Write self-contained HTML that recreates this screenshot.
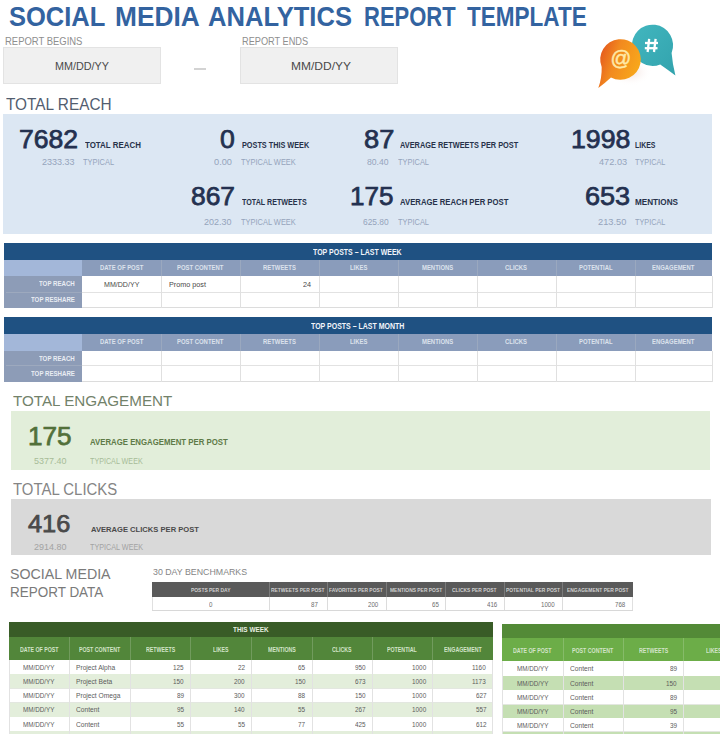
<!DOCTYPE html>
<html><head><meta charset="utf-8"><style>
html,body{margin:0;padding:0;background:#fff;width:720px;height:734px;overflow:hidden;position:relative}
body>div{position:absolute}
.t{white-space:nowrap;transform-origin:0 0;font-family:"Liberation Sans",sans-serif}
</style></head><body>
<div class="t" style="left:8.63px;top:3px;font-size:27.43px;line-height:27.43px;font-weight:700;color:#3363A0;transform:scaleX(0.9303);">SOCIAL</div>
<div class="t" style="left:114.54px;top:3px;font-size:27.43px;line-height:27.43px;font-weight:700;color:#3363A0;transform:scaleX(0.9580);">MEDIA</div>
<div class="t" style="left:208.11px;top:3px;font-size:27.43px;line-height:27.43px;font-weight:700;color:#3363A0;transform:scaleX(0.9327);">ANALYTICS</div>
<div class="t" style="left:363.57px;top:3px;font-size:27.43px;line-height:27.43px;font-weight:700;color:#3363A0;transform:scaleX(0.8022);">REPORT</div>
<div class="t" style="left:467.07px;top:3px;font-size:27.43px;line-height:27.43px;font-weight:700;color:#3363A0;transform:scaleX(0.8211);">TEMPLATE</div>
<div class="t" style="left:5.49px;top:37px;font-size:10.43px;line-height:10.43px;font-weight:400;color:#8E8E8E;transform:scaleX(0.9070);">REPORT BEGINS</div>
<div style="left:3.00px;top:47.00px;width:158.00px;height:37.00px;background:#F0F0F0;box-shadow:inset 0 0 0 1px #E3E3E3"></div>
<div class="t" style="left:55.13px;top:61px;font-size:11.43px;line-height:11.43px;font-weight:400;color:#4A4A4A;transform:scaleX(0.9463);">MM/DD/YY</div>
<div style="left:194.00px;top:68.00px;width:12.00px;height:2.00px;background:#D3D3D3;"></div>
<div class="t" style="left:242.26px;top:37px;font-size:10.43px;line-height:10.43px;font-weight:400;color:#8E8E8E;transform:scaleX(0.8827);">REPORT ENDS</div>
<div style="left:240.00px;top:47.00px;width:158.00px;height:37.00px;background:#F0F0F0;box-shadow:inset 0 0 0 1px #E3E3E3"></div>
<div class="t" style="left:290.54px;top:61px;font-size:11.43px;line-height:11.43px;font-weight:400;color:#4A4A4A;transform:scaleX(1.0517);">MM/DD/YY</div>
<svg style="position:absolute;left:580px;top:15px" width="110" height="85" viewBox="580 15 110 85">
<defs>
<linearGradient id="og" x1="0" y1="0.1" x2="1" y2="0.5"><stop offset="0" stop-color="#E14E1E"/><stop offset="0.45" stop-color="#F28A1F"/><stop offset="1" stop-color="#F8A81B"/></linearGradient>
<linearGradient id="tg" x1="0" y1="0" x2="1" y2="1"><stop offset="0" stop-color="#42B6BF"/><stop offset="1" stop-color="#32A3AD"/></linearGradient>
<radialGradient id="sh" cx="0.5" cy="0.5" r="0.5"><stop offset="0" stop-color="#E8C8C0" stop-opacity="0.6"/><stop offset="1" stop-color="#fff" stop-opacity="0"/></radialGradient>
</defs>
<ellipse cx="630" cy="72" rx="22" ry="14" fill="url(#sh)"/>
<path d="M671.60,53.02 Q672.5,64 675.4,75.6 Q667,69 660.22,64.40 A20.6,20.6 0 1,1 671.60,53.02 z" fill="url(#tg)"/>
<path d="M610.97,77.42 Q605,83 598.3,88 Q602,78 601.68,67.10 A20.3,20.3 0 1,1 610.97,77.42 z" fill="url(#og)"/>
<g stroke="#FFFFFF" stroke-width="2.3" fill="none">
<path d="M649.2,38.8 L647.6,52"/><path d="M655.6,38.8 L654,52"/>
<path d="M645,43 L658,43"/><path d="M644.8,48.2 L657.5,48.2"/>
</g>
<text x="621" y="65.4" font-family="Liberation Sans" font-size="20.5" fill="#FFE9A6" text-anchor="middle" stroke="#FFE9A6" stroke-width="0.5">@</text>
</svg>
<div class="t" style="left:6.39px;top:96px;font-size:16.43px;line-height:16.43px;font-weight:400;color:#525D6F;transform:scaleX(0.9359);">TOTAL REACH</div>
<div style="left:3.00px;top:114.00px;width:709.00px;height:120.00px;background:#DCE7F3;"></div>
<div class="t" style="left:19.35px;top:127px;font-size:25.21px;line-height:25.21px;font-weight:400;color:#243150;transform:scaleX(1.0537);-webkit-text-stroke:0.75px #243150">7682</div>
<div class="t" style="left:84.62px;top:141px;font-size:9.29px;line-height:9.29px;font-weight:700;color:#27324A;transform:scaleX(0.8528);">TOTAL REACH</div>
<div class="t" style="left:42.05px;top:157px;font-size:9.57px;line-height:9.57px;font-weight:400;color:#95A4BC;transform:scaleX(0.9410);">2333.33</div>
<div class="t" style="left:83.15px;top:157px;font-size:9.57px;line-height:9.57px;font-weight:400;color:#95A4BC;transform:scaleX(0.7796);">TYPICAL</div>
<div class="t" style="left:220.31px;top:127px;font-size:25.21px;line-height:25.21px;font-weight:400;color:#243150;transform:scaleX(1.0564);-webkit-text-stroke:0.75px #243150">0</div>
<div class="t" style="left:241.73px;top:141px;font-size:9.29px;line-height:9.29px;font-weight:700;color:#27324A;transform:scaleX(0.7851);">POSTS THIS WEEK</div>
<div class="t" style="left:214.03px;top:157px;font-size:9.57px;line-height:9.57px;font-weight:400;color:#95A4BC;transform:scaleX(0.9637);">0.00</div>
<div class="t" style="left:240.85px;top:157px;font-size:9.57px;line-height:9.57px;font-weight:400;color:#95A4BC;transform:scaleX(0.7794);">TYPICAL WEEK</div>
<div class="t" style="left:363.55px;top:127px;font-size:25.21px;line-height:25.21px;font-weight:400;color:#243150;transform:scaleX(1.0806);-webkit-text-stroke:0.75px #243150">87</div>
<div class="t" style="left:399.52px;top:141px;font-size:9.29px;line-height:9.29px;font-weight:700;color:#27324A;transform:scaleX(0.7943);">AVERAGE RETWEETS PER POST</div>
<div class="t" style="left:367.41px;top:157px;font-size:9.57px;line-height:9.57px;font-weight:400;color:#95A4BC;transform:scaleX(0.9000);">80.40</div>
<div class="t" style="left:398.15px;top:157px;font-size:9.57px;line-height:9.57px;font-weight:400;color:#95A4BC;transform:scaleX(0.7770);">TYPICAL</div>
<div class="t" style="left:570.88px;top:127px;font-size:25.21px;line-height:25.21px;font-weight:400;color:#243150;transform:scaleX(1.0575);-webkit-text-stroke:0.75px #243150">1998</div>
<div class="t" style="left:635.30px;top:141px;font-size:9.29px;line-height:9.29px;font-weight:700;color:#27324A;transform:scaleX(0.7473);">LIKES</div>
<div class="t" style="left:598.52px;top:157px;font-size:9.57px;line-height:9.57px;font-weight:400;color:#95A4BC;transform:scaleX(0.9611);">472.03</div>
<div class="t" style="left:634.85px;top:157px;font-size:9.57px;line-height:9.57px;font-weight:400;color:#95A4BC;transform:scaleX(0.7618);">TYPICAL</div>
<div class="t" style="left:191.39px;top:184px;font-size:25.79px;line-height:25.79px;font-weight:400;color:#243150;transform:scaleX(1.0237);-webkit-text-stroke:0.75px #243150">867</div>
<div class="t" style="left:242.13px;top:197px;font-size:9.86px;line-height:9.86px;font-weight:700;color:#27324A;transform:scaleX(0.7260);">TOTAL RETWEETS</div>
<div class="t" style="left:204.45px;top:217px;font-size:9.57px;line-height:9.57px;font-weight:400;color:#95A4BC;transform:scaleX(0.9394);">202.30</div>
<div class="t" style="left:240.85px;top:217px;font-size:9.57px;line-height:9.57px;font-weight:400;color:#95A4BC;transform:scaleX(0.7794);">TYPICAL WEEK</div>
<div class="t" style="left:350.12px;top:184px;font-size:25.79px;line-height:25.79px;font-weight:400;color:#243150;transform:scaleX(1.0094);-webkit-text-stroke:0.75px #243150">175</div>
<div class="t" style="left:399.51px;top:197px;font-size:9.86px;line-height:9.86px;font-weight:700;color:#27324A;transform:scaleX(0.7843);">AVERAGE REACH PER POST</div>
<div class="t" style="left:363.18px;top:217px;font-size:9.57px;line-height:9.57px;font-weight:400;color:#95A4BC;transform:scaleX(0.8796);">625.80</div>
<div class="t" style="left:398.15px;top:217px;font-size:9.57px;line-height:9.57px;font-weight:400;color:#95A4BC;transform:scaleX(0.7770);">TYPICAL</div>
<div class="t" style="left:585.27px;top:184px;font-size:25.79px;line-height:25.79px;font-weight:400;color:#243150;transform:scaleX(1.0496);-webkit-text-stroke:0.75px #243150">653</div>
<div class="t" style="left:635.22px;top:197px;font-size:9.86px;line-height:9.86px;font-weight:700;color:#27324A;transform:scaleX(0.8280);">MENTIONS</div>
<div class="t" style="left:598.29px;top:217px;font-size:9.57px;line-height:9.57px;font-weight:400;color:#95A4BC;transform:scaleX(0.9675);">213.50</div>
<div class="t" style="left:634.85px;top:217px;font-size:9.57px;line-height:9.57px;font-weight:400;color:#95A4BC;transform:scaleX(0.7618);">TYPICAL</div>
<div style="left:4.00px;top:243.00px;width:708.00px;height:17.00px;background:#1F5182;"></div>
<div class="t" style="left:313.41px;top:247px;font-size:9.86px;line-height:9.86px;font-weight:700;color:#F2F5FA;transform:scaleX(0.7098);">TOP POSTS – LAST WEEK</div>
<div style="left:4.00px;top:260.00px;width:78.00px;height:16.00px;background:#A3B7D9;"></div>
<div style="left:82.00px;top:260.00px;width:630.00px;height:16.00px;background:#8A9CBB;"></div>
<div style="left:161.00px;top:260.00px;width:1.00px;height:16.00px;background:#9AA8BF;"></div>
<div style="left:240.00px;top:260.00px;width:1.00px;height:16.00px;background:#9AA8BF;"></div>
<div style="left:319.00px;top:260.00px;width:1.00px;height:16.00px;background:#9AA8BF;"></div>
<div style="left:398.00px;top:260.00px;width:1.00px;height:16.00px;background:#9AA8BF;"></div>
<div style="left:477.00px;top:260.00px;width:1.00px;height:16.00px;background:#9AA8BF;"></div>
<div style="left:556.00px;top:260.00px;width:1.00px;height:16.00px;background:#9AA8BF;"></div>
<div style="left:635.00px;top:260.00px;width:1.00px;height:16.00px;background:#9AA8BF;"></div>
<div class="t" style="left:99.65px;top:265px;font-size:7.14px;line-height:7.14px;font-weight:700;color:#DCE2EC;transform:scaleX(0.8303);">DATE OF POST</div>
<div class="t" style="left:177.11px;top:265px;font-size:7.14px;line-height:7.14px;font-weight:700;color:#DCE2EC;transform:scaleX(0.8303);">POST CONTENT</div>
<div class="t" style="left:262.94px;top:265px;font-size:7.14px;line-height:7.14px;font-weight:700;color:#DCE2EC;transform:scaleX(0.8303);">RETWEETS</div>
<div class="t" style="left:349.68px;top:265px;font-size:7.14px;line-height:7.14px;font-weight:700;color:#DCE2EC;transform:scaleX(0.8303);">LIKES</div>
<div class="t" style="left:421.77px;top:265px;font-size:7.14px;line-height:7.14px;font-weight:700;color:#DCE2EC;transform:scaleX(0.8303);">MENTIONS</div>
<div class="t" style="left:505.46px;top:265px;font-size:7.14px;line-height:7.14px;font-weight:700;color:#DCE2EC;transform:scaleX(0.8303);">CLICKS</div>
<div class="t" style="left:578.60px;top:265px;font-size:7.14px;line-height:7.14px;font-weight:700;color:#DCE2EC;transform:scaleX(0.8303);">POTENTIAL</div>
<div class="t" style="left:652.25px;top:265px;font-size:7.14px;line-height:7.14px;font-weight:700;color:#DCE2EC;transform:scaleX(0.8303);">ENGAGEMENT</div>
<div style="left:4.00px;top:276.00px;width:78.00px;height:32.00px;background:#8D9CB7;"></div>
<div style="left:6.00px;top:292.00px;width:76.00px;height:1.00px;background:#9DA9BE;"></div>
<div class="t" style="left:39.00px;top:280px;font-size:7.29px;line-height:7.29px;font-weight:700;color:#E9EDF3;transform:scaleX(0.8395);">TOP REACH</div>
<div class="t" style="left:30.64px;top:296px;font-size:7.29px;line-height:7.29px;font-weight:700;color:#E9EDF3;transform:scaleX(0.8395);">TOP RESHARE</div>
<div style="left:82.00px;top:292.00px;width:630.00px;height:1.00px;background:#E2E2E2;"></div>
<div style="left:82.00px;top:307.00px;width:630.00px;height:1.00px;background:#DCDCDC;"></div>
<div style="left:161.00px;top:276.00px;width:1.00px;height:32.00px;background:#E0E0E0;"></div>
<div style="left:240.00px;top:276.00px;width:1.00px;height:32.00px;background:#E0E0E0;"></div>
<div style="left:319.00px;top:276.00px;width:1.00px;height:32.00px;background:#E0E0E0;"></div>
<div style="left:398.00px;top:276.00px;width:1.00px;height:32.00px;background:#E0E0E0;"></div>
<div style="left:477.00px;top:276.00px;width:1.00px;height:32.00px;background:#E0E0E0;"></div>
<div style="left:556.00px;top:276.00px;width:1.00px;height:32.00px;background:#E0E0E0;"></div>
<div style="left:635.00px;top:276.00px;width:1.00px;height:32.00px;background:#E0E0E0;"></div>
<div style="left:712.00px;top:276.00px;width:1.00px;height:32.00px;background:#E0E0E0;"></div>
<div class="t" style="left:103.61px;top:281px;font-size:7.86px;line-height:7.86px;font-weight:400;color:#4A4A4A;transform:scaleX(0.8997);">MM/DD/YY</div>
<div class="t" style="left:169.02px;top:281px;font-size:7.86px;line-height:7.86px;font-weight:400;color:#4A4A4A;transform:scaleX(0.9197);">Promo post</div>
<div class="t" style="left:303.19px;top:281px;font-size:7.86px;line-height:7.86px;font-weight:400;color:#4A4A4A;transform:scaleX(0.9197);">24</div>
<div style="left:4.00px;top:317.00px;width:708.00px;height:17.00px;background:#1F5182;"></div>
<div class="t" style="left:311.28px;top:321px;font-size:9.86px;line-height:9.86px;font-weight:700;color:#F2F5FA;transform:scaleX(0.7098);">TOP POSTS – LAST MONTH</div>
<div style="left:4.00px;top:334.00px;width:78.00px;height:17.00px;background:#A3B7D9;"></div>
<div style="left:82.00px;top:334.00px;width:630.00px;height:17.00px;background:#8A9CBB;"></div>
<div style="left:161.00px;top:334.00px;width:1.00px;height:17.00px;background:#9AA8BF;"></div>
<div style="left:240.00px;top:334.00px;width:1.00px;height:17.00px;background:#9AA8BF;"></div>
<div style="left:319.00px;top:334.00px;width:1.00px;height:17.00px;background:#9AA8BF;"></div>
<div style="left:398.00px;top:334.00px;width:1.00px;height:17.00px;background:#9AA8BF;"></div>
<div style="left:477.00px;top:334.00px;width:1.00px;height:17.00px;background:#9AA8BF;"></div>
<div style="left:556.00px;top:334.00px;width:1.00px;height:17.00px;background:#9AA8BF;"></div>
<div style="left:635.00px;top:334.00px;width:1.00px;height:17.00px;background:#9AA8BF;"></div>
<div class="t" style="left:99.65px;top:339px;font-size:7.14px;line-height:7.14px;font-weight:700;color:#DCE2EC;transform:scaleX(0.8303);">DATE OF POST</div>
<div class="t" style="left:177.11px;top:339px;font-size:7.14px;line-height:7.14px;font-weight:700;color:#DCE2EC;transform:scaleX(0.8303);">POST CONTENT</div>
<div class="t" style="left:262.94px;top:339px;font-size:7.14px;line-height:7.14px;font-weight:700;color:#DCE2EC;transform:scaleX(0.8303);">RETWEETS</div>
<div class="t" style="left:349.68px;top:339px;font-size:7.14px;line-height:7.14px;font-weight:700;color:#DCE2EC;transform:scaleX(0.8303);">LIKES</div>
<div class="t" style="left:421.77px;top:339px;font-size:7.14px;line-height:7.14px;font-weight:700;color:#DCE2EC;transform:scaleX(0.8303);">MENTIONS</div>
<div class="t" style="left:505.46px;top:339px;font-size:7.14px;line-height:7.14px;font-weight:700;color:#DCE2EC;transform:scaleX(0.8303);">CLICKS</div>
<div class="t" style="left:578.60px;top:339px;font-size:7.14px;line-height:7.14px;font-weight:700;color:#DCE2EC;transform:scaleX(0.8303);">POTENTIAL</div>
<div class="t" style="left:652.25px;top:339px;font-size:7.14px;line-height:7.14px;font-weight:700;color:#DCE2EC;transform:scaleX(0.8303);">ENGAGEMENT</div>
<div style="left:4.00px;top:351.00px;width:78.00px;height:31.00px;background:#8D9CB7;"></div>
<div style="left:6.00px;top:365.00px;width:76.00px;height:1.00px;background:#9DA9BE;"></div>
<div class="t" style="left:39.00px;top:355px;font-size:7.29px;line-height:7.29px;font-weight:700;color:#E9EDF3;transform:scaleX(0.8395);">TOP REACH</div>
<div class="t" style="left:30.64px;top:370px;font-size:7.29px;line-height:7.29px;font-weight:700;color:#E9EDF3;transform:scaleX(0.8395);">TOP RESHARE</div>
<div style="left:82.00px;top:365.00px;width:630.00px;height:1.00px;background:#E2E2E2;"></div>
<div style="left:82.00px;top:381.00px;width:630.00px;height:1.00px;background:#DCDCDC;"></div>
<div style="left:161.00px;top:351.00px;width:1.00px;height:31.00px;background:#E0E0E0;"></div>
<div style="left:240.00px;top:351.00px;width:1.00px;height:31.00px;background:#E0E0E0;"></div>
<div style="left:319.00px;top:351.00px;width:1.00px;height:31.00px;background:#E0E0E0;"></div>
<div style="left:398.00px;top:351.00px;width:1.00px;height:31.00px;background:#E0E0E0;"></div>
<div style="left:477.00px;top:351.00px;width:1.00px;height:31.00px;background:#E0E0E0;"></div>
<div style="left:556.00px;top:351.00px;width:1.00px;height:31.00px;background:#E0E0E0;"></div>
<div style="left:635.00px;top:351.00px;width:1.00px;height:31.00px;background:#E0E0E0;"></div>
<div style="left:712.00px;top:351.00px;width:1.00px;height:31.00px;background:#E0E0E0;"></div>
<div class="t" style="left:13.45px;top:394px;font-size:14.79px;line-height:14.79px;font-weight:400;color:#72826A;transform:scaleX(1.0281);">TOTAL ENGAGEMENT</div>
<div style="left:11.00px;top:411.00px;width:699.00px;height:59.00px;background:#E2EEDA;"></div>
<div class="t" style="left:28.42px;top:424px;font-size:25.5px;line-height:25.5px;font-weight:400;color:#52703A;transform:scaleX(1.0247);-webkit-text-stroke:0.75px #52703A">175</div>
<div class="t" style="left:90.30px;top:437px;font-size:9.43px;line-height:9.43px;font-weight:700;color:#5E7A47;transform:scaleX(0.8278);">AVERAGE ENGAGEMENT PER POST</div>
<div class="t" style="left:34.14px;top:457px;font-size:8.79px;line-height:8.79px;font-weight:400;color:#A7BC98;transform:scaleX(1.0218);">5377.40</div>
<div class="t" style="left:90.36px;top:457px;font-size:8.79px;line-height:8.79px;font-weight:400;color:#A7BC98;transform:scaleX(0.8159);">TYPICAL WEEK</div>
<div class="t" style="left:13.45px;top:482px;font-size:15.71px;line-height:15.71px;font-weight:400;color:#858585;transform:scaleX(0.9504);">TOTAL CLICKS</div>
<div style="left:11.00px;top:499.00px;width:700.00px;height:56.00px;background:#D9D9D9;"></div>
<div class="t" style="left:28.49px;top:513px;font-size:23.64px;line-height:23.64px;font-weight:400;color:#4A4A4A;transform:scaleX(1.0741);-webkit-text-stroke:0.75px #4A4A4A">416</div>
<div class="t" style="left:91.06px;top:526px;font-size:7.57px;line-height:7.57px;font-weight:700;color:#4A4A4A;transform:scaleX(1.0045);">AVERAGE CLICKS PER POST</div>
<div class="t" style="left:34.05px;top:543px;font-size:8.86px;line-height:8.86px;font-weight:400;color:#A3A3A3;transform:scaleX(1.0166);">2914.80</div>
<div class="t" style="left:89.86px;top:543px;font-size:8.86px;line-height:8.86px;font-weight:400;color:#A3A3A3;transform:scaleX(0.8172);">TYPICAL WEEK</div>
<div class="t" style="left:10.36px;top:567px;font-size:14.29px;line-height:14.29px;font-weight:400;color:#7A7A7A;transform:scaleX(0.9954);">SOCIAL MEDIA</div>
<div class="t" style="left:9.92px;top:584px;font-size:15.14px;line-height:15.14px;font-weight:400;color:#7A7A7A;transform:scaleX(0.8906);">REPORT DATA</div>
<div class="t" style="left:152.85px;top:567px;font-size:9.57px;line-height:9.57px;font-weight:400;color:#858585;transform:scaleX(0.9207);">30 DAY BENCHMARKS</div>
<div style="left:152.00px;top:582.00px;width:481.00px;height:15.00px;background:#5A5A5A;"></div>
<div style="left:269.00px;top:582.00px;width:1.00px;height:15.00px;background:#7A7A7A;"></div>
<div style="left:269.00px;top:597.00px;width:1.00px;height:14.00px;background:#DCDCDC;"></div>
<div style="left:327.00px;top:582.00px;width:1.00px;height:15.00px;background:#7A7A7A;"></div>
<div style="left:327.00px;top:597.00px;width:1.00px;height:14.00px;background:#DCDCDC;"></div>
<div style="left:386.00px;top:582.00px;width:1.00px;height:15.00px;background:#7A7A7A;"></div>
<div style="left:386.00px;top:597.00px;width:1.00px;height:14.00px;background:#DCDCDC;"></div>
<div style="left:445.00px;top:582.00px;width:1.00px;height:15.00px;background:#7A7A7A;"></div>
<div style="left:445.00px;top:597.00px;width:1.00px;height:14.00px;background:#DCDCDC;"></div>
<div style="left:504.00px;top:582.00px;width:1.00px;height:15.00px;background:#7A7A7A;"></div>
<div style="left:504.00px;top:597.00px;width:1.00px;height:14.00px;background:#DCDCDC;"></div>
<div style="left:562.00px;top:582.00px;width:1.00px;height:15.00px;background:#7A7A7A;"></div>
<div style="left:562.00px;top:597.00px;width:1.00px;height:14.00px;background:#DCDCDC;"></div>
<div style="left:152.00px;top:597.00px;width:1.00px;height:14.00px;background:#E0E0E0;"></div>
<div style="left:632.00px;top:597.00px;width:1.00px;height:14.00px;background:#E0E0E0;"></div>
<div style="left:152.00px;top:610.00px;width:481.00px;height:1.00px;background:#D8D8D8;"></div>
<div class="t" style="left:190.90px;top:588px;font-size:5.86px;line-height:5.86px;font-weight:700;color:#CFCFCF;transform:scaleX(0.8396);">POSTS PER DAY</div>
<div class="t" style="left:271.33px;top:588px;font-size:5.86px;line-height:5.86px;font-weight:700;color:#CFCFCF;transform:scaleX(0.8396);">RETWEETS PER POST</div>
<div class="t" style="left:329.49px;top:588px;font-size:5.86px;line-height:5.86px;font-weight:700;color:#CFCFCF;transform:scaleX(0.8396);">FAVORITES PER POST</div>
<div class="t" style="left:389.56px;top:588px;font-size:5.86px;line-height:5.86px;font-weight:700;color:#CFCFCF;transform:scaleX(0.8396);">MENTIONS PER POST</div>
<div class="t" style="left:452.45px;top:588px;font-size:5.86px;line-height:5.86px;font-weight:700;color:#CFCFCF;transform:scaleX(0.8396);">CLICKS PER POST</div>
<div class="t" style="left:505.85px;top:588px;font-size:5.86px;line-height:5.86px;font-weight:700;color:#CFCFCF;transform:scaleX(0.8396);">POTENTIAL PER POST</div>
<div class="t" style="left:566.61px;top:588px;font-size:5.86px;line-height:5.86px;font-weight:700;color:#CFCFCF;transform:scaleX(0.8396);">ENGAGEMENT PER POST</div>
<div class="t" style="left:209.09px;top:602px;font-size:6.86px;line-height:6.86px;font-weight:400;color:#6E6E6E;transform:scaleX(0.8996);">0</div>
<div class="t" style="left:311.46px;top:602px;font-size:6.86px;line-height:6.86px;font-weight:400;color:#6E6E6E;transform:scaleX(0.8996);">87</div>
<div class="t" style="left:368.47px;top:602px;font-size:6.86px;line-height:6.86px;font-weight:400;color:#6E6E6E;transform:scaleX(0.8996);">200</div>
<div class="t" style="left:431.50px;top:602px;font-size:6.86px;line-height:6.86px;font-weight:400;color:#6E6E6E;transform:scaleX(0.8996);">65</div>
<div class="t" style="left:486.50px;top:602px;font-size:6.86px;line-height:6.86px;font-weight:400;color:#6E6E6E;transform:scaleX(0.8996);">416</div>
<div class="t" style="left:541.02px;top:602px;font-size:6.86px;line-height:6.86px;font-weight:400;color:#6E6E6E;transform:scaleX(0.8996);">1000</div>
<div class="t" style="left:615.47px;top:602px;font-size:6.86px;line-height:6.86px;font-weight:400;color:#6E6E6E;transform:scaleX(0.8996);">768</div>
<div style="left:9.00px;top:622.00px;width:484.00px;height:15.00px;background:#395C27;"></div>
<div style="left:9.00px;top:637.00px;width:484.00px;height:23.00px;background:#52863A;"></div>
<div class="t" style="left:233.04px;top:627px;font-size:7.14px;line-height:7.14px;font-weight:700;color:#E8F0E2;transform:scaleX(0.9004);">THIS WEEK</div>
<div style="left:69.00px;top:637.00px;width:1.00px;height:23.00px;background:rgba(255,255,255,0.18);"></div>
<div style="left:130.00px;top:637.00px;width:1.00px;height:23.00px;background:rgba(255,255,255,0.18);"></div>
<div style="left:190.00px;top:637.00px;width:1.00px;height:23.00px;background:rgba(255,255,255,0.18);"></div>
<div style="left:251.00px;top:637.00px;width:1.00px;height:23.00px;background:rgba(255,255,255,0.18);"></div>
<div style="left:312.00px;top:637.00px;width:1.00px;height:23.00px;background:rgba(255,255,255,0.18);"></div>
<div style="left:372.00px;top:637.00px;width:1.00px;height:23.00px;background:rgba(255,255,255,0.18);"></div>
<div style="left:432.00px;top:637.00px;width:1.00px;height:23.00px;background:rgba(255,255,255,0.18);"></div>
<div class="t" style="left:19.57px;top:647px;font-size:6.43px;line-height:6.43px;font-weight:700;color:#D3E4C8;transform:scaleX(0.8198);">DATE OF POST</div>
<div class="t" style="left:78.70px;top:647px;font-size:6.43px;line-height:6.43px;font-weight:700;color:#D3E4C8;transform:scaleX(0.8198);">POST CONTENT</div>
<div class="t" style="left:145.53px;top:647px;font-size:6.43px;line-height:6.43px;font-weight:700;color:#D3E4C8;transform:scaleX(0.8198);">RETWEETS</div>
<div class="t" style="left:213.16px;top:647px;font-size:6.43px;line-height:6.43px;font-weight:700;color:#D3E4C8;transform:scaleX(0.8198);">LIKES</div>
<div class="t" style="left:267.77px;top:647px;font-size:6.43px;line-height:6.43px;font-weight:700;color:#D3E4C8;transform:scaleX(0.8198);">MENTIONS</div>
<div class="t" style="left:332.18px;top:647px;font-size:6.43px;line-height:6.43px;font-weight:700;color:#D3E4C8;transform:scaleX(0.8198);">CLICKS</div>
<div class="t" style="left:387.23px;top:647px;font-size:6.43px;line-height:6.43px;font-weight:700;color:#D3E4C8;transform:scaleX(0.8198);">POTENTIAL</div>
<div class="t" style="left:443.62px;top:647px;font-size:6.43px;line-height:6.43px;font-weight:700;color:#D3E4C8;transform:scaleX(0.8198);">ENGAGEMENT</div>
<div style="left:9.00px;top:660.00px;width:484.00px;height:14.00px;background:#FFFFFF;"></div>
<div style="left:9.00px;top:674.00px;width:484.00px;height:1.00px;background:#E3E7E0;"></div>
<div style="left:9.00px;top:674.00px;width:484.00px;height:15.00px;background:#E3EEDB;"></div>
<div style="left:9.00px;top:688.00px;width:484.00px;height:1.00px;background:#E3E7E0;"></div>
<div style="left:9.00px;top:689.00px;width:484.00px;height:14.00px;background:#FFFFFF;"></div>
<div style="left:9.00px;top:702.00px;width:484.00px;height:1.00px;background:#E3E7E0;"></div>
<div style="left:9.00px;top:703.00px;width:484.00px;height:14.00px;background:#E3EEDB;"></div>
<div style="left:9.00px;top:717.00px;width:484.00px;height:1.00px;background:#E3E7E0;"></div>
<div style="left:9.00px;top:717.00px;width:484.00px;height:14.00px;background:#FFFFFF;"></div>
<div style="left:9.00px;top:731.00px;width:484.00px;height:1.00px;background:#E3E7E0;"></div>
<div style="left:9.00px;top:731.00px;width:484.00px;height:14.00px;background:#E3EEDB;"></div>
<div style="left:9.00px;top:745.00px;width:484.00px;height:1.00px;background:#E3E7E0;"></div>
<div style="left:9.00px;top:660.00px;width:1.00px;height:74.00px;background:#E2E2E2;"></div>
<div style="left:69.00px;top:660.00px;width:1.00px;height:74.00px;background:#E2E2E2;"></div>
<div style="left:130.00px;top:660.00px;width:1.00px;height:74.00px;background:#E2E2E2;"></div>
<div style="left:190.00px;top:660.00px;width:1.00px;height:74.00px;background:#E2E2E2;"></div>
<div style="left:251.00px;top:660.00px;width:1.00px;height:74.00px;background:#E2E2E2;"></div>
<div style="left:312.00px;top:660.00px;width:1.00px;height:74.00px;background:#E2E2E2;"></div>
<div style="left:372.00px;top:660.00px;width:1.00px;height:74.00px;background:#E2E2E2;"></div>
<div style="left:432.00px;top:660.00px;width:1.00px;height:74.00px;background:#E2E2E2;"></div>
<div style="left:492.00px;top:660.00px;width:1.00px;height:74.00px;background:#E2E2E2;"></div>
<div class="t" style="left:23.06px;top:664px;font-size:7.0px;line-height:7.0px;font-weight:400;color:#5C5C5C;transform:scaleX(0.9000);">MM/DD/YY</div>
<div class="t" style="left:75.67px;top:664px;font-size:7.0px;line-height:7.0px;font-weight:400;color:#5C5C5C;transform:scaleX(0.9500);">Project Alpha</div>
<div class="t" style="left:173.15px;top:664px;font-size:7.0px;line-height:7.0px;font-weight:400;color:#5C5C5C;transform:scaleX(0.9100);">125</div>
<div class="t" style="left:237.75px;top:664px;font-size:7.0px;line-height:7.0px;font-weight:400;color:#5C5C5C;transform:scaleX(0.9100);">22</div>
<div class="t" style="left:298.18px;top:664px;font-size:7.0px;line-height:7.0px;font-weight:400;color:#5C5C5C;transform:scaleX(0.9100);">65</div>
<div class="t" style="left:354.65px;top:664px;font-size:7.0px;line-height:7.0px;font-weight:400;color:#5C5C5C;transform:scaleX(0.9100);">950</div>
<div class="t" style="left:411.58px;top:664px;font-size:7.0px;line-height:7.0px;font-weight:400;color:#5C5C5C;transform:scaleX(0.9100);">1000</div>
<div class="t" style="left:472.36px;top:664px;font-size:7.0px;line-height:7.0px;font-weight:400;color:#5C5C5C;transform:scaleX(0.9100);">1160</div>
<div class="t" style="left:23.06px;top:678px;font-size:7.0px;line-height:7.0px;font-weight:400;color:#5C5C5C;transform:scaleX(0.9000);">MM/DD/YY</div>
<div class="t" style="left:75.67px;top:678px;font-size:7.0px;line-height:7.0px;font-weight:400;color:#5C5C5C;transform:scaleX(0.9500);">Project Beta</div>
<div class="t" style="left:173.15px;top:678px;font-size:7.0px;line-height:7.0px;font-weight:400;color:#5C5C5C;transform:scaleX(0.9100);">150</div>
<div class="t" style="left:234.15px;top:678px;font-size:7.0px;line-height:7.0px;font-weight:400;color:#5C5C5C;transform:scaleX(0.9100);">200</div>
<div class="t" style="left:294.65px;top:678px;font-size:7.0px;line-height:7.0px;font-weight:400;color:#5C5C5C;transform:scaleX(0.9100);">150</div>
<div class="t" style="left:354.68px;top:678px;font-size:7.0px;line-height:7.0px;font-weight:400;color:#5C5C5C;transform:scaleX(0.9100);">673</div>
<div class="t" style="left:411.58px;top:678px;font-size:7.0px;line-height:7.0px;font-weight:400;color:#5C5C5C;transform:scaleX(0.9100);">1000</div>
<div class="t" style="left:472.39px;top:678px;font-size:7.0px;line-height:7.0px;font-weight:400;color:#5C5C5C;transform:scaleX(0.9100);">1173</div>
<div class="t" style="left:23.06px;top:692px;font-size:7.0px;line-height:7.0px;font-weight:400;color:#5C5C5C;transform:scaleX(0.9000);">MM/DD/YY</div>
<div class="t" style="left:75.67px;top:692px;font-size:7.0px;line-height:7.0px;font-weight:400;color:#5C5C5C;transform:scaleX(0.9500);">Project Omega</div>
<div class="t" style="left:176.72px;top:692px;font-size:7.0px;line-height:7.0px;font-weight:400;color:#5C5C5C;transform:scaleX(0.9100);">89</div>
<div class="t" style="left:234.15px;top:692px;font-size:7.0px;line-height:7.0px;font-weight:400;color:#5C5C5C;transform:scaleX(0.9100);">300</div>
<div class="t" style="left:298.18px;top:692px;font-size:7.0px;line-height:7.0px;font-weight:400;color:#5C5C5C;transform:scaleX(0.9100);">88</div>
<div class="t" style="left:354.65px;top:692px;font-size:7.0px;line-height:7.0px;font-weight:400;color:#5C5C5C;transform:scaleX(0.9100);">150</div>
<div class="t" style="left:411.58px;top:692px;font-size:7.0px;line-height:7.0px;font-weight:400;color:#5C5C5C;transform:scaleX(0.9100);">1000</div>
<div class="t" style="left:475.51px;top:692px;font-size:7.0px;line-height:7.0px;font-weight:400;color:#5C5C5C;transform:scaleX(0.9100);">627</div>
<div class="t" style="left:23.06px;top:706px;font-size:7.0px;line-height:7.0px;font-weight:400;color:#5C5C5C;transform:scaleX(0.9000);">MM/DD/YY</div>
<div class="t" style="left:75.87px;top:706px;font-size:7.0px;line-height:7.0px;font-weight:400;color:#5C5C5C;transform:scaleX(0.9500);">Content</div>
<div class="t" style="left:176.68px;top:706px;font-size:7.0px;line-height:7.0px;font-weight:400;color:#5C5C5C;transform:scaleX(0.9100);">95</div>
<div class="t" style="left:234.15px;top:706px;font-size:7.0px;line-height:7.0px;font-weight:400;color:#5C5C5C;transform:scaleX(0.9100);">140</div>
<div class="t" style="left:298.18px;top:706px;font-size:7.0px;line-height:7.0px;font-weight:400;color:#5C5C5C;transform:scaleX(0.9100);">55</div>
<div class="t" style="left:354.71px;top:706px;font-size:7.0px;line-height:7.0px;font-weight:400;color:#5C5C5C;transform:scaleX(0.9100);">267</div>
<div class="t" style="left:411.58px;top:706px;font-size:7.0px;line-height:7.0px;font-weight:400;color:#5C5C5C;transform:scaleX(0.9100);">1000</div>
<div class="t" style="left:475.51px;top:706px;font-size:7.0px;line-height:7.0px;font-weight:400;color:#5C5C5C;transform:scaleX(0.9100);">557</div>
<div class="t" style="left:23.06px;top:721px;font-size:7.0px;line-height:7.0px;font-weight:400;color:#5C5C5C;transform:scaleX(0.9000);">MM/DD/YY</div>
<div class="t" style="left:75.87px;top:721px;font-size:7.0px;line-height:7.0px;font-weight:400;color:#5C5C5C;transform:scaleX(0.9500);">Content</div>
<div class="t" style="left:176.68px;top:721px;font-size:7.0px;line-height:7.0px;font-weight:400;color:#5C5C5C;transform:scaleX(0.9100);">55</div>
<div class="t" style="left:237.68px;top:721px;font-size:7.0px;line-height:7.0px;font-weight:400;color:#5C5C5C;transform:scaleX(0.9100);">55</div>
<div class="t" style="left:298.25px;top:721px;font-size:7.0px;line-height:7.0px;font-weight:400;color:#5C5C5C;transform:scaleX(0.9100);">77</div>
<div class="t" style="left:354.65px;top:721px;font-size:7.0px;line-height:7.0px;font-weight:400;color:#5C5C5C;transform:scaleX(0.9100);">425</div>
<div class="t" style="left:411.58px;top:721px;font-size:7.0px;line-height:7.0px;font-weight:400;color:#5C5C5C;transform:scaleX(0.9100);">1000</div>
<div class="t" style="left:475.51px;top:721px;font-size:7.0px;line-height:7.0px;font-weight:400;color:#5C5C5C;transform:scaleX(0.9100);">612</div>
<div style="left:502.00px;top:624.00px;width:218.00px;height:14.00px;background:#538A37;"></div>
<div style="left:502.00px;top:638.00px;width:218.00px;height:23.00px;background:#6CAD48;"></div>
<div style="left:563.00px;top:638.00px;width:1.00px;height:23.00px;background:rgba(255,255,255,0.18);"></div>
<div style="left:623.00px;top:638.00px;width:1.00px;height:23.00px;background:rgba(255,255,255,0.18);"></div>
<div style="left:683.00px;top:638.00px;width:1.00px;height:23.00px;background:rgba(255,255,255,0.18);"></div>
<div class="t" style="left:513.22px;top:648px;font-size:6.43px;line-height:6.43px;font-weight:700;color:#D3E4C8;transform:scaleX(0.8198);">DATE OF POST</div>
<div class="t" style="left:572.45px;top:648px;font-size:6.43px;line-height:6.43px;font-weight:700;color:#D3E4C8;transform:scaleX(0.8198);">POST CONTENT</div>
<div class="t" style="left:638.78px;top:648px;font-size:6.43px;line-height:6.43px;font-weight:700;color:#D3E4C8;transform:scaleX(0.8198);">RETWEETS</div>
<div class="t" style="left:705.91px;top:648px;font-size:6.43px;line-height:6.43px;font-weight:700;color:#D3E4C8;transform:scaleX(0.8198);">LIKES</div>
<div style="left:502.00px;top:661.00px;width:218.00px;height:15.00px;background:#FFFFFF;"></div>
<div style="left:502.00px;top:676.00px;width:218.00px;height:1.00px;background:#E3E7E0;"></div>
<div style="left:502.00px;top:676.00px;width:218.00px;height:14.00px;background:#C5DFB3;"></div>
<div style="left:502.00px;top:690.00px;width:218.00px;height:1.00px;background:#E3E7E0;"></div>
<div style="left:502.00px;top:690.00px;width:218.00px;height:15.00px;background:#FFFFFF;"></div>
<div style="left:502.00px;top:704.00px;width:218.00px;height:1.00px;background:#E3E7E0;"></div>
<div style="left:502.00px;top:705.00px;width:218.00px;height:13.00px;background:#C5DFB3;"></div>
<div style="left:502.00px;top:718.00px;width:218.00px;height:1.00px;background:#E3E7E0;"></div>
<div style="left:502.00px;top:718.00px;width:218.00px;height:14.00px;background:#FFFFFF;"></div>
<div style="left:502.00px;top:731.00px;width:218.00px;height:1.00px;background:#E3E7E0;"></div>
<div style="left:502.00px;top:732.00px;width:218.00px;height:13.00px;background:#C5DFB3;"></div>
<div style="left:502.00px;top:745.00px;width:218.00px;height:1.00px;background:#E3E7E0;"></div>
<div style="left:502.00px;top:661.00px;width:1.00px;height:73.00px;background:#E2E2E2;"></div>
<div style="left:563.00px;top:661.00px;width:1.00px;height:73.00px;background:#E2E2E2;"></div>
<div style="left:623.00px;top:661.00px;width:1.00px;height:73.00px;background:#E2E2E2;"></div>
<div style="left:683.00px;top:661.00px;width:1.00px;height:73.00px;background:#E2E2E2;"></div>
<div class="t" style="left:516.71px;top:665px;font-size:7.0px;line-height:7.0px;font-weight:400;color:#5C5C5C;transform:scaleX(0.9000);">MM/DD/YY</div>
<div class="t" style="left:569.87px;top:665px;font-size:7.0px;line-height:7.0px;font-weight:400;color:#5C5C5C;transform:scaleX(0.9500);">Content</div>
<div class="t" style="left:669.72px;top:665px;font-size:7.0px;line-height:7.0px;font-weight:400;color:#5C5C5C;transform:scaleX(0.9100);">89</div>
<div class="t" style="left:516.71px;top:680px;font-size:7.0px;line-height:7.0px;font-weight:400;color:#5C5C5C;transform:scaleX(0.9000);">MM/DD/YY</div>
<div class="t" style="left:569.87px;top:680px;font-size:7.0px;line-height:7.0px;font-weight:400;color:#5C5C5C;transform:scaleX(0.9500);">Content</div>
<div class="t" style="left:666.15px;top:680px;font-size:7.0px;line-height:7.0px;font-weight:400;color:#5C5C5C;transform:scaleX(0.9100);">150</div>
<div class="t" style="left:516.71px;top:694px;font-size:7.0px;line-height:7.0px;font-weight:400;color:#5C5C5C;transform:scaleX(0.9000);">MM/DD/YY</div>
<div class="t" style="left:569.87px;top:694px;font-size:7.0px;line-height:7.0px;font-weight:400;color:#5C5C5C;transform:scaleX(0.9500);">Content</div>
<div class="t" style="left:669.72px;top:694px;font-size:7.0px;line-height:7.0px;font-weight:400;color:#5C5C5C;transform:scaleX(0.9100);">89</div>
<div class="t" style="left:516.71px;top:708px;font-size:7.0px;line-height:7.0px;font-weight:400;color:#5C5C5C;transform:scaleX(0.9000);">MM/DD/YY</div>
<div class="t" style="left:569.87px;top:708px;font-size:7.0px;line-height:7.0px;font-weight:400;color:#5C5C5C;transform:scaleX(0.9500);">Content</div>
<div class="t" style="left:669.68px;top:708px;font-size:7.0px;line-height:7.0px;font-weight:400;color:#5C5C5C;transform:scaleX(0.9100);">95</div>
<div class="t" style="left:516.71px;top:722px;font-size:7.0px;line-height:7.0px;font-weight:400;color:#5C5C5C;transform:scaleX(0.9000);">MM/DD/YY</div>
<div class="t" style="left:569.87px;top:722px;font-size:7.0px;line-height:7.0px;font-weight:400;color:#5C5C5C;transform:scaleX(0.9500);">Content</div>
<div class="t" style="left:669.72px;top:722px;font-size:7.0px;line-height:7.0px;font-weight:400;color:#5C5C5C;transform:scaleX(0.9100);">39</div>
</body></html>
